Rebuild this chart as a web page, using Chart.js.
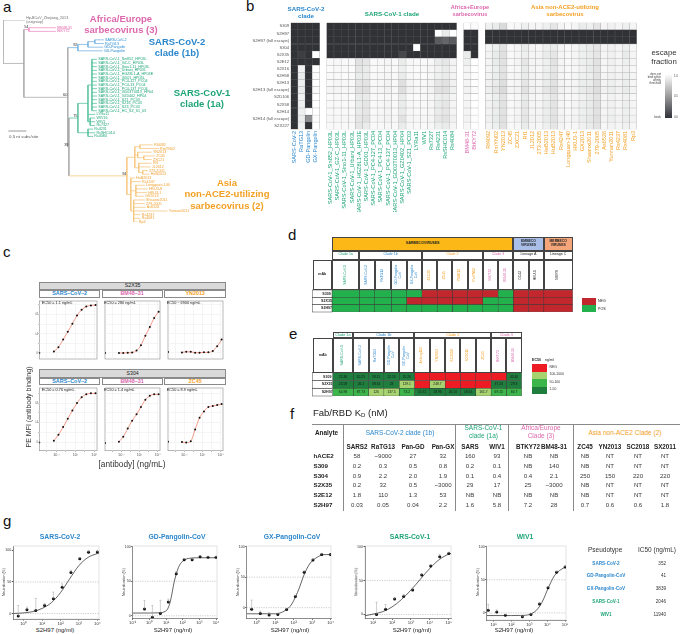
<!DOCTYPE html>
<html><head><meta charset="utf-8"><title>Sarbecovirus antibody breadth figure</title>
<script src="https://cdn.jsdelivr.net/npm/chart.js@4.4.1/dist/chart.umd.min.js"></script>
<style>
html,body{margin:0;padding:0;background:#fff;}
#root{position:relative;width:680px;height:634px;overflow:hidden;font-family:"Liberation Sans",Arial,Helvetica,sans-serif;color:#222;}
.t{position:absolute;white-space:nowrap;line-height:1.15;}
.box{position:absolute;box-sizing:border-box;display:flex;align-items:center;justify-content:center;text-align:center;line-height:1.1;overflow:visible;}
.vt{writing-mode:vertical-rl;transform:rotate(180deg);white-space:nowrap;line-height:1.05;}
canvas{position:absolute;}
</style></head><body><div id="root"></div>
<script>
// ================= DATA =================
// ---- panel a: phylogeny leaves ----
const outgroupLeaf = 'Hp-BCoV_Zhejiang_2013';
const africaLeaves = ['BM48-31','BtKY72'];
const sars2Leaves = ['SARS-CoV-2','RaTG13','GD-Pangolin','GX-Pangolin'];
const sars1Strains = ['SARS-CoV-1_Sin852_HP03L','SARS-CoV-1_GZ-C_HP03L','SARS-CoV-1_Sino1-11_HP03L','SARS-CoV-1_Urbani_HP03L','SARS-CoV-1_HGZ8L1-A_HP03E','SARS-CoV-1_GD01_HP03L','SARS-CoV-1_PC4-127_PC04','SARS-CoV-1_PC4-13_PC04','SARS-CoV-1_PC4-137_PC04','SARS-CoV-1_GD03T0013_HP04','SARS-CoV-1_GZ0402_HP04','SARS-CoV-1_SZ1_PC03','SARS-CoV-1_SZ16_PC03','SARS-CoV-1_SZ3_PC03','SARS-CoV-1_HC_SZ_61_03'];
const sars1Relatives = ['LYRa11','WIV16','WIV1','Rs7327','Rs4231','RsSHC014','Rs4084'];
const asiaLeaves = ['Rf4092','RmYN02','YN2013','ZC45','ZXC21','Rf1','JL2012','273-2005','HeB2013','HuB2013','Rs4247','Longquan-140','HKU3-8','HKU3-1','GX2013','Shaanxi2011','279-2005','As6526','Yunnan2011','Rs4237','Rs4081','Rp3'];
const asiaTipLen = [0.36,0.53,0.39,0.31,0.22,0.36,0.33,0.14,0.19,0.11,0.28,0.25,0.33,0.31,0.22,0.31,0.31,0.33,0.94,0.19,0.19,0.11];
const bootstrapValues = [54,92,60,75,39,94];

// ---- panel b: escape heatmap ----
const hmAntibodies = ['S309','S2H97','S2H97 (full escape)','S304','S2X35','S2E12','S2X16','S2H58','S2H13','S2H13 (full escape)','S2D106','S2X58','S2H14','S2H14 (full escape)','S2X227'];
const hmSars2Clade = ['SARS-CoV-2','RaTG13','GD-Pangolin','GX-Pangolin'];
const hmSars1Clade = ['SARS-CoV-1_Sin852_HP03L','SARS-CoV-1_GZ-C_HP03L','SARS-CoV-1_Sino1-11_HP03L','SARS-CoV-1_Urbani_HP03L','SARS-CoV-1_HGZ8L1-A_HP03E','SARS-CoV-1_GD01_HP03L','SARS-CoV-1_PC4-127_PC04','SARS-CoV-1_PC4-13_PC04','SARS-CoV-1_PC4-137_PC04','SARS-CoV-1_GD03T0013_HP04','SARS-CoV-1_GZ0402_HP04','SARS-CoV-1_SZ1_PC03','LYRa11','WIV1','Rs7327','Rs4231','RsSHC014','Rs4084'];
const hmAfricaClade = ['BM48-31','BtKY72'];
const hmAsiaClade = ['Rf4092','RmYN02','YN2013','ZC45','ZXC21','Rf1','JL2012','273-2005','HeB2013','HuB2013','Rs4247','Longquan-140','HKU3-1','GX2013','Shaanxi2011','279-2005','As6526','Yunnan2011','Rs4237','Rs4081','Rp3'];
// escape fraction per antibody (0 = binds, 1 = does not bind), columns in the order above
const escS309    = [0,0,0,0, 0,0,0,0,0,0,0,0,0,0,0,0,0,0,0,0,0,0, 1,.98, .93,.9,.82,.97,.96,.92,.95,.95,.92,.88,.95,.97,.95,.9,.92,.87,.95,.93,.95,.92,.95];
const escS2H97   = [0,0,0,0, 0,0,0,0,0,0,0,0,0,0,0,0,0,0,0,1,.9,1, 0,0, 0,0,0,0,0,0,0,0,0,0,0,0,0,0,0,0,0,0,0,0,0];
const escS2H97fe = [0,0,0,0, 0,0,0,0,0,0,0,0,0,0,0,0,0,0,0,.2,.25,.2, 0,0, 0,0,0,0,0,0,0,0,0,0,0,0,0,0,0,0,0,0,0,0,0];
const escS304    = [0,0,0,0, 0,0,0,0,0,0,0,0,0,0,0,0,1,0,0,0,0,0, 0,0, .95,.92,.86,.97,.95,.9,.95,.96,.92,.9,.95,.97,.95,.92,.9,.88,.95,.93,.95,.92,.96];
const escS2X35   = [0,.06,0,1, 0,0,0,0,0,0,0,0,0,0,.1,0,0,0,0,0,0,0, .9,0, .94,.9,.85,.97,.95,.92,.95,.95,.9,.88,.95,.97,.95,.92,.9,.88,.95,.93,.95,.9,.95];
const escS2E12   = [0,0,0,0, .97,.96,.97,.97,.86,.88,.97,.96,.95,.97,.9,.96,.97,.97,.96,.9,.88,.94, .92,1, .95,.9,.86,.97,.95,.88,.95,.95,.92,.86,.95,.97,.95,.92,.9,.86,.95,.93,.95,.92,.95];
const escS2X16   = [0,.93,0,1, .98,.97,.97,.98,.88,.9,.97,.97,.96,.97,.92,.97,.98,.97,.96,.93,.9,.95, .95,1, .95,.92,.87,.97,.96,.9,.95,.96,.92,.88,.95,.97,.96,.93,.9,.87,.96,.94,.95,.93,.96];
const escS2H58   = [0,.9,0,.98, .97,.97,.98,.97,.9,.9,.97,.96,.95,.97,.9,.96,.97,.98,.96,.92,.9,.94, .96,.99, .94,.91,.86,.96,.95,.9,.94,.95,.91,.87,.95,.97,.95,.92,.91,.87,.95,.93,.94,.92,.95];
const escS2H13   = [0,.92,0,1, .97,.96,.97,.97,.88,.87,.97,.96,.94,.97,.85,.95,.97,.97,.95,.88,.86,.93, .95,1, .93,.9,.84,.96,.95,.88,.94,.95,.9,.86,.94,.96,.95,.91,.9,.85,.94,.92,.94,.91,.95];
const escS2H13fe = [0,.9,0,.97, .95,.95,.96,.96,.86,.85,.96,.95,.93,.96,.84,.94,.96,.96,.94,.86,.85,.92, .94,.98, .92,.88,.82,.95,.94,.86,.93,.94,.88,.84,.93,.95,.94,.9,.88,.84,.93,.91,.93,.9,.94];
const escS2D106  = [0,.93,0,1, .98,.97,.97,.98,.9,.9,.97,.97,.96,.97,.9,.97,.98,.97,.96,.92,.9,.95, .96,1, .95,.92,.87,.97,.96,.9,.95,.96,.92,.88,.95,.97,.96,.93,.9,.87,.96,.94,.95,.93,.96];
const escS2X58   = [0,.92,0,1, .97,.97,.97,.97,.9,.88,.97,.96,.95,.97,.9,.96,.97,.97,.96,.9,.88,.95, .95,1, .94,.91,.86,.97,.95,.89,.95,.95,.91,.87,.95,.97,.95,.92,.9,.86,.95,.93,.95,.92,.95];
const escS2H14   = [0,.92,1,1, .97,.97,.97,.97,.9,.88,.97,.96,.95,.97,.9,.96,.97,.97,.96,.9,.88,.95, .95,1, .94,.91,.86,.97,.95,.89,.95,.95,.91,.87,.95,.97,.95,.92,.9,.86,.95,.93,.95,.92,.95];
const escS2H14fe = [0,.9,.45,.98, .96,.96,.96,.96,.88,.86,.96,.95,.94,.96,.86,.95,.96,.96,.95,.88,.86,.93, .94,.99, .93,.9,.85,.96,.94,.88,.94,.94,.9,.86,.94,.96,.94,.91,.89,.85,.94,.92,.94,.91,.94];
const escS2X227  = [0,.93,0,1, .97,.97,.97,.97,.88,.9,.97,.97,.96,.97,.9,.96,.97,.97,.96,.92,.9,.95, .96,1, .95,.92,.86,.97,.96,.9,.95,.96,.92,.88,.95,.97,.96,.93,.9,.87,.96,.94,.95,.93,.96];
const escapeRows = [escS309,escS2H97,escS2H97fe,escS304,escS2X35,escS2E12,escS2X16,escS2H58,escS2H13,escS2H13fe,escS2D106,escS2X58,escS2H14,escS2H14fe,escS2X227];

// ---- panel c: yeast-display binding curves (normalized MFI) ----
const cConc = [0.004,0.021,0.115,0.62,3.3,17.8,95,513,2750,14800];
const cBlankConc = 0.00002;
const mfi_S2X35_SARS2  = [0.03,0.12,0.28,0.44,0.61,0.78,0.9,0.97,0.99,1.0];
const mfi_S2X35_BM4831 = [0,0,0.005,0.01,0.05,0.16,0.36,0.54,0.73,0.86];
const mfi_S2X35_YN2013 = [0.01,0.025,0.025,0.006,0.006,0.013,0.013,0.044,0.14,0.28];
const mfi_S304_SARS2   = [0.03,0.15,0.31,0.48,0.65,0.8,0.92,0.98,1.0,1.0];
const mfi_S304_BM4831  = [0.01,0.11,0.28,0.44,0.57,0.72,0.87,0.95,0.98,0.98];
const mfi_S304_ZC45    = [0,-0.01,0.02,0.26,0.5,0.63,0.72,0.74,0.76,0.78];
const mfiBlank_S2X35 = [0,0,0.02];
const mfiBlank_S304  = [-0.01,-0.02,0.01];
const ec50_S2X35 = ['EC50 = 1.1 ng/mL','EC50 = 280 ng/mL','EC50 ~ 6900 ng/mL'];
const ec50_S304  = ['EC50 = 0.76 ng/mL','EC50 = 1.4 ng/mL','EC50 = 8.9 ng/mL'];

// ---- panel d: binding POS(1)/NEG(0) ----
const dViruses = ['SARS-CoV-1','SARS-CoV-2','RaTG13','GD-Pangolin CoV','GX-Pangolin CoV','ZXC21','ZC45','YN2013','RmYN02','BtKY72','BM48-31','OC43','HKU-1','MERS'];
const dMabs = ['S309','S2X35','S2H97'];
const dS309  = [1,1,1,1,1,0,0,0,0,0,1,0,0,0];
const dS2X35 = [1,1,1,1,0,0,0,0,0,1,1,0,0,0];
const dS2H97 = [1,1,1,1,1,1,1,1,1,1,1,0,0,0];

// ---- panel e: IC50 ng/ml (null = NEG) ----
const eViruses = ['SARS-CoV-1','SARS-CoV-2','RaTG13','GD-Pangolin CoV','GX-Pangolin CoV','Anlong112','YN2013','SC2018','SX2011','ZC45','BtKY72','BM48-31'];
const eMabs = ['S309','S2X35','S2H97'];
const eS309  = [25.36,10.25,28.15,22.13,25.26,null,null,null,null,null,null,43.46];
const eS2X35 = [25.58,26.1,38.61,23,129.1,null,248.7,null,null,null,37.24,29.30];
const eS2H97 = [64.98,87.73,126,137.5,73.2,15.72,18.96,26.13,18.56,161.7,69.15,84.7];

// ---- panel f: Fab/RBD KD (nM) ----
const fColumns = ['SARS2','RaTG13','Pan-GD','Pan-GX','SARS','WIV1','BTKY72','BM48-31','ZC45','YN2013','SC2018','SX2011'];
const fAnalytes = ['hACE2','S309','S304','S2X35','S2E12','S2H97'];
const kd_hACE2 = ['58','~9000','27','32','160','93','NB','NB','NB','NT','NT','NT'];
const kd_S309  = ['0.2','0.3','0.5','0.8','0.2','0.1','NB','140','NB','NT','NT','NT'];
const kd_S304  = ['0.9','2.2','2.0','1.9','0.1','0.4','0.4','2.1','250','150','220','220'];
const kd_S2X35 = ['0.2','32','0.5','~3000','29','17','25','~3000','NB','NT','NT','NT'];
const kd_S2E12 = ['1.8','110','1.3','53','NB','NB','NB','NB','NB','NT','NT','NT'];
const kd_S2H97 = ['0.03','0.05','0.04','2.2','1.6','5.8','7.2','28','0.7','0.6','0.6','1.8'];

// ---- panel g: pseudovirus neutralization by S2H97 ----
const gConc10 = [0.51,1.52,4.57,13.7,41.2,123,370,1111,3333,10000];
const neut_SARS2 = [-4.1,6.1,4.6,12.7,23.4,41.6,65,86.8,97,97.5];
const err_SARS2  = [16.8,4,19.3,3.3,10.6,5.4,3.5,2,3,1.5];
const fitConc_SARS2 = [0.28,1,3.16,10,31.6,100,316,1000,3162,10000,12300];
const fit_SARS2     = [0,1,3,8,17,33,55,76,89,95,96];
const neut_GD = [10,-2.2,3.5,20,61,81,81,85.6,84.7,84.7];
const err_GD  = [12,17,19,4,3,2,2,1.5,1,1];
const fitConc_GD = [0.1,1,3.16,10,17.8,31.6,56,100,316,1000,10000,11500];
const fit_GD     = [4,4,4.3,7,20,50,70,79,83.5,84,84,84];
const neut_GX = [-2.6,-9.5,-12,-11,-3,18.4,58,78,87,87];
const err_GX  = [15,4,4,2,2,2,2,2,2,1];
const fitConc_GX = [0.275,3.16,10,25,50,79,126,200,316,501,794,1259,1995,3162,6310,10700];
const fit_GX     = [-10,-10,-10,-7,-1,6,18,32,49,63,73,79,83,86,87,87];
const gConc100k = [15.2,45.7,137,412,1235,3704,11111,33333,100000];
const neut_SARS1 = [0,7.6,22.7,26.5,36,58.3,71.6,85.3,90];
const err_SARS1  = [18,7,2,3,3,2,2,3,2];
const fitConc_SARS1 = [3.7,10,31.6,100,316,1000,3162,10000,31623,100000,132000];
const fit_SARS1     = [-2,0.5,4,11,22,36,52,68,81,89,90];
const gConcWIV1 = [5.1,15.2,45.7,412,1235,3704,11111,33333,100000];
const neut_WIV1 = [3.9,1.5,-3.4,-5.8,-2.4,13.6,37.9,61.2,69.4];
const err_WIV1  = [9,3,1,1,1,2,2,2,1];
const fitConc_WIV1 = [4.2,100,316,631,1000,1585,2512,3981,6310,10000,15849,25119,39811,63096,100000,112000];
const fit_WIV1     = [-4,-4,-3.8,-3.5,-2.5,0,4,11,21,34,46,56,62,66,69,70];
const pseudotypes = ['SARS-CoV-2','GD-Pangolin-CoV','GX-Pangolin-CoV','SARS-CoV-1','WIV1'];
const ic50Values = ['352','41','3839','2046','11940'];

// ================= STYLE / HELPERS =================
const BLUE='#2b87cc', GREEN='#1ea478', PINK='#dc68ad', ORANGE='#f3a024';
const root = document.getElementById('root');
Chart.defaults.font.family = '"Liberation Sans", Arial, Helvetica, sans-serif';
Chart.defaults.color = '#333';
const SUP = {'-':'⁻','0':'⁰','1':'¹','2':'²','3':'³','4':'⁴','5':'⁵','6':'⁶','7':'⁷','8':'⁸','9':'⁹'};
const pow10Label = e => '10' + String(e).split('').map(c => SUP[c]).join('');
const isExp = (v, list) => { const e = Math.log10(v); const r = Math.round(e); return Math.abs(e - r) < 1e-6 && list.includes(r) ? r : null; };

function place(rect, m, cfg) {
  const L = Math.floor(rect[0] - m.l), T = Math.floor(rect[1] - m.t);
  const W = Math.ceil(rect[2] + m.r - L), H = Math.ceil(rect[3] + m.b - T);
  const ml = rect[0] - L, mt = rect[1] - T, mr = W - (rect[2] - L), mb = H - (rect[3] - T);
  const cv = document.createElement('canvas');
  cv.width = W; cv.height = H;
  cv.style.cssText = `left:${L}px;top:${T}px;width:${W}px;height:${H}px;`;
  root.appendChild(cv);
  const o = cfg.options = cfg.options || {};
  o.responsive = false; o.animation = false; o.maintainAspectRatio = false; o.devicePixelRatio = 1; o.events = [];
  const sx = o.scales.x, sy = o.scales.y;
  const yShown = sy.display !== false, xShown = sx.display !== false;
  o.layout = {padding: {left: yShown ? 0 : ml, right: mr, top: mt, bottom: xShown ? 0 : mb}};
  const zero = s => { s.paddingTop = 0; s.paddingBottom = 0; s.paddingLeft = 0; s.paddingRight = 0; };
  if (yShown) sy.afterFit = s => { s.width = ml; zero(s); };
  if (xShown) sx.afterFit = s => { s.height = mb; zero(s); };
  o.plugins = Object.assign({legend: {display: false}, tooltip: {enabled: false}}, o.plugins || {});
  const ch = new Chart(cv, cfg);
  ch.$L = L; ch.$T = T;
  return ch;
}
function text(x, y, html, o = {}) {
  const d = document.createElement('div'); d.className = 't'; d.innerHTML = html;
  Object.assign(d.style, {left: x + 'px', top: y + 'px', fontSize: (o.size || 6) + 'px', color: o.color || '#222',
    fontWeight: o.bold ? 'bold' : 'normal', textAlign: o.align || 'left', lineHeight: o.lh || '1.15'});
  if (o.align === 'center') d.style.transform = 'translateX(-50%)';
  if (o.align === 'right') d.style.transform = 'translateX(-100%)';
  root.appendChild(d); return d;
}
function rtext(cx, cy, html, o = {}) {
  const d = document.createElement('div'); d.className = 't'; d.innerHTML = html;
  Object.assign(d.style, {left: cx + 'px', top: cy + 'px', fontSize: (o.size || 6) + 'px', color: o.color || '#222',
    transform: 'translate(-50%,-50%) rotate(-90deg)', lineHeight: '1'});
  root.appendChild(d); return d;
}
function box(x0, y0, x1, y1, html, o = {}) {
  const d = document.createElement('div'); d.className = 'box';
  Object.assign(d.style, {left: x0 + 'px', top: y0 + 'px', width: (x1 - x0) + 'px', height: (y1 - y0) + 'px',
    fontSize: (o.size || 3.6) + 'px', color: o.color || '#222', background: o.bg || 'transparent',
    border: o.border || '0.5px solid #444', fontWeight: o.bold ? 'bold' : 'normal'});
  if (o.vertical) { const s = document.createElement('span'); s.className = 'vt'; s.innerHTML = html; d.appendChild(s); }
  else d.innerHTML = html;
  root.appendChild(d); return d;
}
const framePlugin = {id: 'frame', beforeDraw(ch, a, opts) {
  const c = ch.chartArea, ctx = ch.ctx; ctx.save(); ctx.strokeStyle = opts.color || '#999'; ctx.lineWidth = opts.width || 0.6;
  ctx.strokeRect(c.left, c.top, c.right - c.left, c.bottom - c.top); ctx.restore(); }};
const refLinePlugin = {id: 'refLines', beforeDatasetsDraw(ch) {
  const c = ch.chartArea, ctx = ch.ctx, ys = ch.scales.y; ctx.save(); ctx.strokeStyle = '#9a9a9a'; ctx.lineWidth = 0.5; ctx.setLineDash([1.2, 1.2]);
  [50, 0].forEach(v => { const y = ys.getPixelForValue(v); ctx.beginPath(); ctx.moveTo(c.left, y); ctx.lineTo(c.right, y); ctx.stroke(); });
  ctx.restore(); }};
const errPlugin = {id: 'errBars', afterDatasetsDraw(ch) {
  const ctx = ch.ctx, xs = ch.scales.x, ys = ch.scales.y; ctx.save(); ctx.strokeStyle = '#9c9c9c'; ctx.lineWidth = 0.5;
  ch.data.datasets.forEach(ds => { if (!ds.errUp) return;
    ds.data.forEach((p, i) => { const px = xs.getPixelForValue(p.x), y0 = ys.getPixelForValue(p.y), y1 = ys.getPixelForValue(p.y + ds.errUp[i]);
      ctx.beginPath(); ctx.moveTo(px, y0); ctx.lineTo(px, y1); ctx.moveTo(px - 1, y1); ctx.lineTo(px + 1, y1); ctx.stroke(); }); });
  ctx.restore(); }};
const labelBoxPlugin = {id: 'labelBox', afterDraw(ch) {
  const ys = ch.scales.y, c = ch.chartArea, ctx = ch.ctx, n = ys.ticks.length, h = (c.bottom - c.top) / n;
  ctx.save(); ctx.strokeStyle = '#444'; ctx.lineWidth = 0.5;
  for (let i = 0; i < n; i++) ctx.strokeRect(ys.left + 0.25, c.top + i * h, ys.width - 0.25, h);
  ctx.restore(); }};
const cellTextPlugin = {id: 'cellText', afterDatasetsDraw(ch) {
  const ctx = ch.ctx; ctx.save(); ctx.font = '3.3px "Liberation Sans", Arial'; ctx.textAlign = 'center'; ctx.textBaseline = 'middle'; ctx.fillStyle = '#151515';
  ch.data.datasets.forEach((ds, j) => { const meta = ch.getDatasetMeta(j);
    ds.cellText.forEach((t, i) => { if (t == null) return; const el = meta.data[i]; ctx.fillText(t, (el.x + el.base) / 2, el.y + 0.2); }); });
  ctx.restore(); }};

// ================= PANEL LETTERS =================
[['a',3,-1],['b',246,-2],['c',3,244],['d',288,227],['e',289,326],['f',290,406],['g',3,513]].forEach(([l,x,y]) => text(x, y, l, {size: 15, color: '#111', lh: '1'}));

// ================= PANEL A: TREE =================
(function () {
  const leaf = (name, len, clade) => ({name, len, clade});
  const node = (len, children, boot) => ({len, children, boot});
  const A = asiaLeaves, AL = asiaTipLen, al = i => leaf(A[i], AL[i], 'as');
  const tree = node(0, [
    leaf(outgroupLeaf, 0.61, 'out'),
    node(0.58, [
      node(0.14, [leaf(africaLeaves[0], 0.75, 'af'), leaf(africaLeaves[1], 0.75, 'af')], bootstrapValues[0]),
      node(1.22, [
        node(0.28, [node(0.28, [node(0.19, [leaf(sars2Leaves[0], 0.25, 's2'), leaf(sars2Leaves[1], 0.25, 's2')]), leaf(sars2Leaves[2], 0.42, 's2')]), leaf(sars2Leaves[3], 0.69, 's2')], bootstrapValues[1]),
        node(0.03, [
          node(0.25, [
            node(0.28, [node(0.11, sars1Strains.map(n => leaf(n, 0.14, 's1'))), leaf(sars1Relatives[0], 0.2, 's1'),
              node(0.06, [leaf(sars1Relatives[1], 0.14, 's1'), leaf(sars1Relatives[2], 0.14, 's1'), leaf(sars1Relatives[3], 0.14, 's1')])]),
            node(0.28, [leaf(sars1Relatives[4], 0.14, 's1'), leaf(sars1Relatives[5], 0.2, 's1'), leaf(sars1Relatives[6], 0.14, 's1')])
          ], bootstrapValues[3]),
          node(1.61, [
            node(0.22, [node(0.14, [al(0), al(1)]), node(0.08, [al(2), node(0.17, [al(3), al(4)])]), node(0.11, [al(5), al(6), node(0.11, [al(7), al(8)])])]),
            node(0.11, [al(9), al(10), node(0.14, [al(11), al(12), al(13), al(14)]), node(0.08, [al(15), al(16), al(17), al(18), al(19), al(20), al(21)])])
          ], bootstrapValues[5])
        ], bootstrapValues[4])
      ], bootstrapValues[2])
    ])
  ]);
  const gapBefore = [africaLeaves[0], sars2Leaves[0], sars1Strains[0], asiaLeaves[0]];
  const st = {slot: 0}, leaves = [], internals = [];
  (function lay(n, x0) {
    n.x = x0 + n.len;
    if (n.children) {
      n.children.forEach(c => lay(c, n.x));
      n.y = (n.children[0].y + n.children[n.children.length - 1].y) / 2;
      const cl = new Set(n.children.map(c => c.clade)); n.clade = cl.size === 1 ? [...cl][0] : 'bb';
      internals.push(n);
    } else {
      if (gapBefore.includes(n.name)) st.slot += (n.name === africaLeaves[0] ? 1.1 : 1.3);
      n.y = st.slot; st.slot += 1; leaves.push(n);
    }
  })(tree, 0);
  const segs = {};
  const add = (cl, x1, y1, x2, y2) => { (segs[cl] = segs[cl] || []).push({x: x1, y: y1}, {x: x2, y: y2}, {x: x2, y: null}); };
  internals.forEach(n => {
    add(n.clade, n.x, n.children[0].y, n.x, n.children[n.children.length - 1].y);
    n.children.forEach(c => add(c.clade, n.x, c.y, c.x, c.y));
  });
  const branchColor = {bb: '#a6a6a6', out: '#a0a0a0', af: '#ec8cc4', s2: '#72b0e2', s1: '#52c09c', as: '#f6c47a'};
  const labelColor = {out: '#6f6f6f', af: '#e060a8', s2: '#2a8ad0', s1: '#1fa57a', as: '#f0a030'};
  const treeLabels = {id: 'treeLabels', afterDraw(ch) {
    const ctx = ch.ctx, xs = ch.scales.x, ys = ch.scales.y;
    ctx.save(); ctx.textBaseline = 'middle'; ctx.font = '3.7px "Liberation Sans", Arial';
    leaves.forEach(lf => {
      ctx.fillStyle = labelColor[lf.clade];
      const px = xs.getPixelForValue(lf.x) + 1.2, py = ys.getPixelForValue(lf.y);
      if (lf.clade === 'out') { ctx.fillText(lf.name, px, py - 2.2); ctx.fillText('(outgroup)', px, py + 2); }
      else ctx.fillText(lf.name, px, py);
    });
    ctx.font = '3.9px "Liberation Sans", Arial'; ctx.fillStyle = '#333'; ctx.textAlign = 'right'; ctx.textBaseline = 'bottom';
    internals.forEach(n => { if (n.boot != null) ctx.fillText(String(n.boot), xs.getPixelForValue(n.x) - 0.4, ys.getPixelForValue(n.y) - 0.3); });
    ctx.strokeStyle = '#555'; ctx.lineWidth = 0.6; ctx.beginPath(); ctx.moveTo(xs.getPixelForValue(0.15), 131); ctx.lineTo(xs.getPixelForValue(0.65), 131); ctx.stroke();
    ctx.restore();
  }};
  place([3, 20, 232, 222], {l: 3, r: 6, t: 20, b: 10}, {
    type: 'scatter',
    data: {datasets: Object.keys(segs).map(k => ({data: segs[k], showLine: true, borderColor: branchColor[k], borderWidth: 0.75, pointRadius: 0, spanGaps: false, tension: 0}))},
    options: {scales: {x: {type: 'linear', display: false, min: 0, max: 6.36}, y: {type: 'linear', display: false, min: 0, max: st.slot - 1, reverse: true}}},
    plugins: [treeLabels]
  });
  text(9, 133.5, '0.5 nt subs/site', {size: 4.4, color: '#555'});
  text(121, 12.5, 'Africa/Europe<br>sarbecovirus (3)', {size: 9.5, bold: true, color: PINK, align: 'center', lh: '1.25'});
  text(177, 35.5, 'SARS-CoV-2<br>clade (1b)', {size: 9.5, bold: true, color: BLUE, align: 'center', lh: '1.25'});
  text(202, 86.5, 'SARS-CoV-1<br>clade (1a)', {size: 9.5, bold: true, color: GREEN, align: 'center', lh: '1.25'});
  text(227, 176.5, 'Asia<br>non-ACE2-utilizing<br>sarbecovirus (2)', {size: 9.5, bold: true, color: ORANGE, align: 'center', lh: '1.25'});
})();

// ================= PANEL B: HEATMAP =================
(function () {
  const groups = [[hmSars2Clade, BLUE], [hmSars1Clade, GREEN], [hmAfricaClade, PINK], [hmAsiaClade, ORANGE]];
  const labels = [], colColors = [], colIndex = [];
  let k = 0;
  groups.forEach(([g, col], gi) => {
    if (gi > 0) { labels.push(''); colColors.push('#fff'); colIndex.push(null); }
    g.forEach(n => { labels.push(n); colColors.push(col); colIndex.push(k++); });
  });
  const gray = v => { const a = Math.round(48 + 207 * v), b = Math.round(50 + 205 * v), c = Math.round(53 + 202 * v); return `rgb(${a},${b},${c})`; };
  const nR = hmAntibodies.length;
  const datasets = [];
  for (let d = 0; d < nR; d++) {
    const r = nR - 1 - d, row = escapeRows[r];
    datasets.push({
      data: colIndex.map(ci => ci == null ? null : 1),
      backgroundColor: colIndex.map(ci => ci == null ? 'rgba(0,0,0,0)' : gray(row[ci])),
      borderColor: colIndex.map(ci => ci == null ? 'rgba(0,0,0,0)' : (row[ci] < 0.5 ? '#505254' : '#b3b3b3')),
      borderWidth: 0.5, borderSkipped: false, barPercentage: 1, categoryPercentage: 1
    });
  }
  place([290.7, 22.7, 636.7, 129.3], {l: 61, r: 2, t: 1, b: 82}, {
    type: 'bar',
    data: {labels, datasets},
    options: {scales: {
      x: {type: 'category', stacked: true, grid: {display: false, drawTicks: false}, border: {display: false},
          ticks: {autoSkip: false, minRotation: 90, maxRotation: 90, font: {size: 5.6}, padding: 1.5, color: c => colColors[c.index] || '#333'}},
      y: {type: 'linear', stacked: true, min: 0, max: nR, grid: {display: false, drawTicks: false}, border: {display: false},
          afterBuildTicks: s => { s.ticks = hmAntibodies.map((_, i) => ({value: i + 0.5})); },
          ticks: {autoSkip: false, font: {size: 4.2}, color: '#555', padding: 1.5, callback: v => hmAntibodies[nR - 1 - Math.floor(v)]}}
    }}
  });
  text(306, 5, 'SARS-CoV-2<br>clade', {size: 6.2, bold: true, color: BLUE, align: 'center', lh: '1.2'});
  text(392, 9.5, 'SARS-CoV-1 clade', {size: 6.2, bold: true, color: GREEN, align: 'center'});
  text(470, 3.5, 'Africa+Europe<br>sarbecovirus', {size: 5.6, bold: true, color: PINK, align: 'center', lh: '1.3'});
  text(565, 3.5, 'Asia non-ACE2-utilizing<br>sarbecovirus', {size: 6, bold: true, color: ORANGE, align: 'center', lh: '1.25'});
  text(664, 49, 'escape<br>fraction', {size: 7.8, color: '#333', align: 'center', lh: '1.15'});
  const g = document.createElement('div');
  Object.assign(g.style, {position: 'absolute', left: '665px', top: '74px', width: '7px', height: '44px', background: 'linear-gradient(to bottom,#ffffff,#9c9c9c 50%,#30323a)'});
  root.appendChild(g);
  text(661, 72.5, 'does not<br>bind within<br>affinity<br>threshold', {size: 2.8, color: '#444', align: 'right', lh: '1.1'});
  text(661, 115.5, 'binds', {size: 2.8, color: '#444', align: 'right'});
  text(674, 74.5, '1.0', {size: 2.8, color: '#444'});
  text(674, 94.5, '0.5', {size: 2.8, color: '#444'});
  text(674, 115.5, '0.0', {size: 2.8, color: '#444'});
})();

// ================= PANEL C: BINDING CURVES =================
(function () {
  const px = [[39.3, 100], [101.5, 162.7], [164.3, 226]];
  const rows = [
    {ab: 'S2X35', strip: [281.5, 290.3], sub: [290.3, 298.3], plot: [298.3, 362.3], yr: [-0.125, 1.083], blank: mfiBlank_S2X35, ec: ec50_S2X35,
     sets: [['SARS–CoV–2', BLUE, mfi_S2X35_SARS2], ['BM48–31', PINK, mfi_S2X35_BM4831], ['YN2013', ORANGE, mfi_S2X35_YN2013]]},
    {ab: 'S304', strip: [368.5, 378.3], sub: [378.3, 385], plot: [385, 450.7], yr: [-0.176, 1.11], blank: mfiBlank_S304, ec: ec50_S304,
     sets: [['SARS–CoV–2', BLUE, mfi_S304_SARS2], ['BM48–31', PINK, mfi_S304_BM4831], ['ZC45', ORANGE, mfi_S304_ZC45]]}
  ];
  rows.forEach((R, ri) => {
    box(39.3, R.strip[0], 226, R.strip[1], R.ab, {bg: '#d9d9d9', border: '0.6px solid #8a8a8a', size: 5.2, color: '#1a1a1a'});
    R.sets.forEach(([name, col, vals], ci) => {
      box(px[ci][0], R.sub[0], px[ci][1], R.sub[1], name, {bg: '#fff', border: '0.6px solid #8a8a8a', size: 5.4, bold: true, color: col});
      const showY = ci === 0, showX = ri === 1;
      place([px[ci][0], R.plot[0], px[ci][1], R.plot[1]], {l: showY ? 4 : 0, r: 0.5, t: 0.5, b: showX ? 6 : 0}, {
        type: 'scatter',
        data: {datasets: [
          {data: [{x: cBlankConc, y: R.blank[ci]}].concat(cConc.map((x, i) => ({x, y: vals[i]}))), pointRadius: 1.0, pointBackgroundColor: '#111', pointBorderWidth: 0},
          {data: cConc.map((x, i) => ({x, y: vals[i]})), showLine: true, pointRadius: 0, borderColor: '#f3826d', borderWidth: 0.8, cubicInterpolationMode: 'monotone'}
        ]},
        options: {scales: {
          x: {type: 'logarithmic', min: Math.pow(10, -4.7), max: Math.pow(10, 4.4),
              afterBuildTicks: s => { s.ticks = [-3.5, -2, -0.5, 1, 2.5, 4].map(e => ({value: Math.pow(10, e)})); },
              ticks: {display: showX, autoSkip: false, maxRotation: 0, font: {size: 3.8}, color: '#555', padding: 0.3,
                      callback: v => { const e = isExp(v, [-2, 1, 4]); return e == null ? '' : pow10Label(e); }},
              grid: {color: '#ebebeb', lineWidth: 0.5, drawTicks: showX, tickLength: 1.2, tickColor: '#555'}, border: {display: false}},
          y: {type: 'linear', min: R.yr[0], max: R.yr[1],
              afterBuildTicks: s => { s.ticks = [0, 0.2, 0.4, 0.6, 0.8, 1.0].map(v => ({value: v})); },
              ticks: {display: showY, autoSkip: false, font: {size: 2.8}, color: '#555', padding: 0.3,
                      callback: v => (Math.abs(v) < 1e-9 || Math.abs(v - 0.4) < 1e-9 || Math.abs(v - 0.8) < 1e-9) ? String(v) : ''},
              grid: {color: '#ebebeb', lineWidth: 0.5, drawTicks: showY, tickLength: 1, tickColor: '#555'}, border: {display: false}}
        }, plugins: {frame: {color: '#8a8a8a', width: 0.6}}},
        plugins: [framePlugin]
      });
      text(px[ci][0] + 2.5, R.plot[0] + 2.5, R.ec[ci], {size: 3.8, color: '#222'});
    });
  });
  rtext(28, 407, 'PE MFI (antibody binding)', {size: 7, color: '#333'});
  text(132, 459.5, '[antibody] (ng/mL)', {size: 8.3, color: '#333', align: 'center'});
})();

// ================= PANEL D: POS/NEG GRID =================
(function () {
  const dColWidth = [1.8, 1, 1.1, 1, 1, 1, 1, 1, 1, 1, 1, 1, 1, 1.9];
  const edges = [0]; dColWidth.forEach(w => edges.push(edges[edges.length - 1] + w));
  const POS = '#23b14d', NEG = '#c1272d';
  const rows = [dS309, dS2X35, dS2H97];
  const ch = place([332, 290, 572.7, 312], {l: 19.5, r: 1, t: 1, b: 1}, {
    type: 'bar',
    data: {labels: dMabs, datasets: dViruses.map((v, j) => ({
      data: dMabs.map(() => [edges[j], edges[j + 1]]),
      backgroundColor: rows.map(r => r[j] ? POS : NEG),
      borderColor: '#3a3a3a', borderWidth: 0.5, borderSkipped: false, grouped: false, barPercentage: 1, categoryPercentage: 1}))},
    options: {indexAxis: 'y', scales: {
      x: {type: 'linear', display: false, min: 0, max: edges[edges.length - 1]},
      y: {type: 'category', grid: {display: false, drawTicks: false}, border: {display: false},
          ticks: {autoSkip: false, font: {size: 3.6, weight: 'bold'}, color: '#222', crossAlign: 'center', padding: 0}}
    }},
    plugins: [labelBoxPlugin]
  });
  const X = k => ch.$L + ch.scales.x.getPixelForValue(edges[k]);
  box(X(0), 236.7, X(11), 250.7, 'SARBECOVIRUSES', {bg: '#fbb817', size: 3.6, bold: true});
  box(X(11), 236.7, X(13), 250.7, 'EMBECO<br>VIRUSES', {bg: '#a9bfe8', size: 3.4, bold: true});
  box(X(13), 236.7, X(14), 250.7, 'MERBECO<br>VIRUSES', {bg: '#f5a57a', size: 3.4, bold: true});
  [[0, 1, 'Clade 1a', GREEN], [1, 5, 'Clade 1b', BLUE], [5, 9, 'Clade 2', ORANGE], [9, 11, 'Clade 3', PINK], [11, 13, 'Lineage A', '#222'], [13, 14, 'Lineage C', '#222']]
    .forEach(([a, b, t, c]) => box(X(a), 250.7, X(b), 260, t, {size: 3.6, color: c}));
  box(312.5, 260, X(0), 290, 'mAb', {size: 3.6, bold: true});
  const vcol = j => j === 0 ? GREEN : j < 5 ? BLUE : j < 9 ? ORANGE : j < 11 ? PINK : '#222';
  dViruses.forEach((v, j) => box(X(j), 260, X(j + 1), 290, v.replace(' CoV', '<br>CoV'), {size: 3.4, color: vcol(j), vertical: true}));
  box(582, 298, 596, 305, '', {bg: NEG, border: 'none'});
  box(582, 305, 596, 312, '', {bg: POS, border: 'none'});
  text(598, 299.2, 'NEG', {size: 3.6});
  text(598, 306.6, 'POS', {size: 3.6});
})();

// ================= PANEL E: IC50 GRID =================
(function () {
  const eColWidth = [1.34, 1, 1, 1, 1, 1, 1, 1, 1, 1, 1, 1];
  const edges = [0]; eColWidth.forEach(w => edges.push(edges[edges.length - 1] + w));
  const col = v => v == null ? '#ed1c24' : v > 100 ? '#a6d36f' : v > 50 ? '#3cb54a' : '#1f7d3e';
  const rows = [eS309, eS2X35, eS2H97];
  const ch = place([332.7, 372.7, 521.7, 396], {l: 20, r: 1, t: 1, b: 1}, {
    type: 'bar',
    data: {labels: eMabs, datasets: eViruses.map((v, j) => ({
      data: eMabs.map(() => [edges[j], edges[j + 1]]),
      backgroundColor: rows.map(r => col(r[j])),
      cellText: rows.map(r => r[j] == null ? null : String(r[j])),
      borderColor: '#3a3a3a', borderWidth: 0.5, borderSkipped: false, grouped: false, barPercentage: 1, categoryPercentage: 1}))},
    options: {indexAxis: 'y', scales: {
      x: {type: 'linear', display: false, min: 0, max: edges[edges.length - 1]},
      y: {type: 'category', grid: {display: false, drawTicks: false}, border: {display: false},
          ticks: {autoSkip: false, font: {size: 3.6, weight: 'bold'}, color: '#222', crossAlign: 'center', padding: 0}}
    }},
    plugins: [labelBoxPlugin, cellTextPlugin]
  });
  const X = k => ch.$L + ch.scales.x.getPixelForValue(edges[k]);
  [[0, 1, 'Clade 1a', GREEN], [1, 5, 'Clade 1b', BLUE], [5, 10, 'Clade 2', ORANGE], [10, 12, 'Clade 3', PINK]]
    .forEach(([a, b, t, c]) => box(X(a), 331.7, X(b), 338.3, t, {size: 3.8, color: c}));
  box(312.7, 338.3, X(0), 372.7, 'mAb', {size: 3.6, bold: true});
  const vcol = j => j === 0 ? GREEN : j < 5 ? BLUE : j < 10 ? ORANGE : PINK;
  eViruses.forEach((v, j) => box(X(j), 338.3, X(j + 1), 372.7, v.replace(' CoV', '<br>CoV'), {size: 3.5, color: vcol(j), vertical: true}));
  text(532, 358, 'EC50', {size: 3.6, bold: true});
  text(545, 358, 'ng/ml', {size: 3.6});
  [['#ed1c24', 'NEG'], ['#a6d36f', '100-1000'], ['#3cb54a', '50-100'], ['#1f7d3e', '1-50']].forEach(([c, t], i) => {
    box(532.3, 364 + i * 7.6, 547.3, 371.6 + i * 7.6, '', {bg: c, border: 'none'});
    text(549.5, 365.6 + i * 7.6, t, {size: 3.4, color: '#333'});
  });
})();

// ================= PANEL F: KD TABLE =================
(function () {
  const colX = [357, 383, 413, 443, 470, 497, 528, 554, 585, 610, 638, 665];
  const rowY = [455.5, 465.5, 475.2, 485, 495, 505];
  const kdRows = [kd_hACE2, kd_S309, kd_S304, kd_S2X35, kd_S2E12, kd_S2H97];
  text(313, 407.5, 'Fab/RBD K<sub style="font-size:6px;vertical-align:-1px">D</sub> (nM)', {size: 9.5, color: '#222'});
  const line = (x, y, w, h) => { const d = document.createElement('div'); Object.assign(d.style, {position: 'absolute', left: x + 'px', top: y + 'px', width: w + 'px', height: h + 'px', background: '#8a8a8a'}); root.appendChild(d); };
  line(312, 424, 368, 0.6);
  [343, 455, 508, 573].forEach(x => line(x, 424, 0.6, 87));
  text(315, 428.5, 'Analyte', {size: 6.4, bold: true});
  text(400, 428.5, 'SARS-CoV-2 clade (1b)', {size: 6.5, color: BLUE, align: 'center'});
  text(483.5, 423.8, 'SARS-CoV-1<br>clade (1a)', {size: 6.5, color: GREEN, align: 'center', lh: '1.3'});
  text(541, 423.8, 'Africa/Europe<br>Clade (3)', {size: 6.5, color: PINK, align: 'center', lh: '1.3'});
  text(625, 428.5, 'Asia non-ACE2 Clade (2)', {size: 6.5, color: ORANGE, align: 'center'});
  fColumns.forEach((c, j) => text(colX[j], 443, c, {size: 6.3, bold: true, align: 'center'}));
  fAnalytes.forEach((a, i) => {
    text(313.5, rowY[i] - 3.6, a, {size: 6.2, bold: true});
    kdRows[i].forEach((v, j) => text(colX[j], rowY[i] - 3.6, v, {size: 6.1, color: '#3a3a3a', align: 'center'}));
  });
})();

// ================= PANEL G: NEUTRALIZATION =================
(function () {
  function gPlot(rect, xr, yr, exps, conc, neut, err, fitC, fitY) {
    return place(rect, {l: 8, r: 1, t: 1, b: 6.5}, {
      type: 'scatter',
      data: {datasets: [
        {data: conc.map((x, i) => ({x, y: neut[i]})), errUp: err, pointRadius: 1.5, pointBackgroundColor: '#111', pointBorderWidth: 0},
        {data: fitC.map((x, i) => ({x, y: fitY[i]})), showLine: true, pointRadius: 0, borderColor: '#222', borderWidth: 0.7, cubicInterpolationMode: 'monotone'}
      ]},
      options: {scales: {
        x: {type: 'logarithmic', min: Math.pow(10, xr[0]), max: Math.pow(10, xr[1]),
            afterBuildTicks: s => { s.ticks = exps.map(e => ({value: Math.pow(10, e)})); },
            ticks: {autoSkip: false, maxRotation: 0, font: {size: 4.3}, color: '#333', padding: 0.4, callback: v => { const e = isExp(v, exps); return e == null ? '' : pow10Label(e); }},
            grid: {display: true, drawOnChartArea: false, tickLength: 1.5, tickColor: '#555'}, border: {color: '#555', width: 0.6}},
        y: {type: 'linear', min: yr[0], max: yr[1],
            afterBuildTicks: s => { s.ticks = [0, 50, 100].map(v => ({value: v})); },
            ticks: {autoSkip: false, font: {size: 3.6}, color: '#333', padding: 0.5},
            grid: {display: true, drawOnChartArea: false, tickLength: 1.5, tickColor: '#555'}, border: {color: '#555', width: 0.6}}
      }, plugins: {frame: {color: '#d0d0d0', width: 0.6}}},
      plugins: [framePlugin, refLinePlugin, errPlugin]
    });
  }
  const specs = [
    {r: [13.3, 543.3, 101.7, 619], xr: [-0.56, 4.09], yr: [-8.7, 107], ex: [0, 1, 2, 3, 4], c: gConc10, n: neut_SARS2, e: err_SARS2, fc: fitConc_SARS2, fy: fit_SARS2, t: pseudotypes[0], col: BLUE, tx: 60, xt: 55},
    {r: [132.7, 543.3, 219.3, 618.3], xr: [-1, 4.06], yr: [-3.6, 101], ex: [-1, 0, 1, 2, 3, 4], c: gConc10, n: neut_GD, e: err_GD, fc: fitConc_GD, fy: fit_GD, t: pseudotypes[1], col: BLUE, tx: 177, xt: 173},
    {r: [246.7, 543.3, 333.3, 618.3], xr: [-0.56, 4.03], yr: [-17.4, 101], ex: [0, 1, 2, 3, 4], c: gConc10, n: neut_GX, e: err_GX, fc: fitConc_GX, fy: fit_GX, t: pseudotypes[2], col: BLUE, tx: 292, xt: 290},
    {r: [365, 543.3, 453.3, 618.3], xr: [0.57, 5.12], yr: [-5.7, 101], ex: [1, 2, 3, 4, 5], c: gConc100k, n: neut_SARS1, e: err_SARS1, fc: fitConc_SARS1, fy: fit_SARS1, t: pseudotypes[3], col: GREEN, tx: 410, xt: 412},
    {r: [486.7, 543.3, 568.3, 620], xr: [0.62, 5.05], yr: [-10.7, 101], ex: [1, 2, 3, 4, 5], c: gConcWIV1, n: neut_WIV1, e: err_WIV1, fc: fitConc_WIV1, fy: fit_WIV1, t: pseudotypes[4], col: GREEN, tx: 525, xt: 514}
  ];
  specs.forEach(s => {
    gPlot(s.r, s.xr, s.yr, s.ex, s.c, s.n, s.e, s.fc, s.fy);
    text(s.tx, 532.5, s.t, {size: 6.8, bold: true, color: s.col, align: 'center'});
    text(s.xt, 626.5, 'S2H97 (ng/ml)', {size: 6, color: '#222', align: 'center'});
    rtext(s.r[0] - 8, 582, 'Neutralization (%)', {size: 3.5, color: '#333'});
  });
  text(588, 545.5, 'Pseudotype', {size: 6.5, color: '#333'});
  text(638, 545.5, 'IC50 (ng/mL)', {size: 6.5, color: '#333'});
  const ty = [563.3, 576, 589, 601.7, 614.3];
  const pc = [BLUE, BLUE, BLUE, GREEN, GREEN];
  pseudotypes.forEach((p, i) => {
    text(606, ty[i] - 2.7, p, {size: 4.6, bold: true, color: pc[i], align: 'center'});
    text(666, ty[i] - 2.7, ic50Values[i], {size: 4.6, color: '#333', align: 'right'});
  });
})();
</script></body></html>
